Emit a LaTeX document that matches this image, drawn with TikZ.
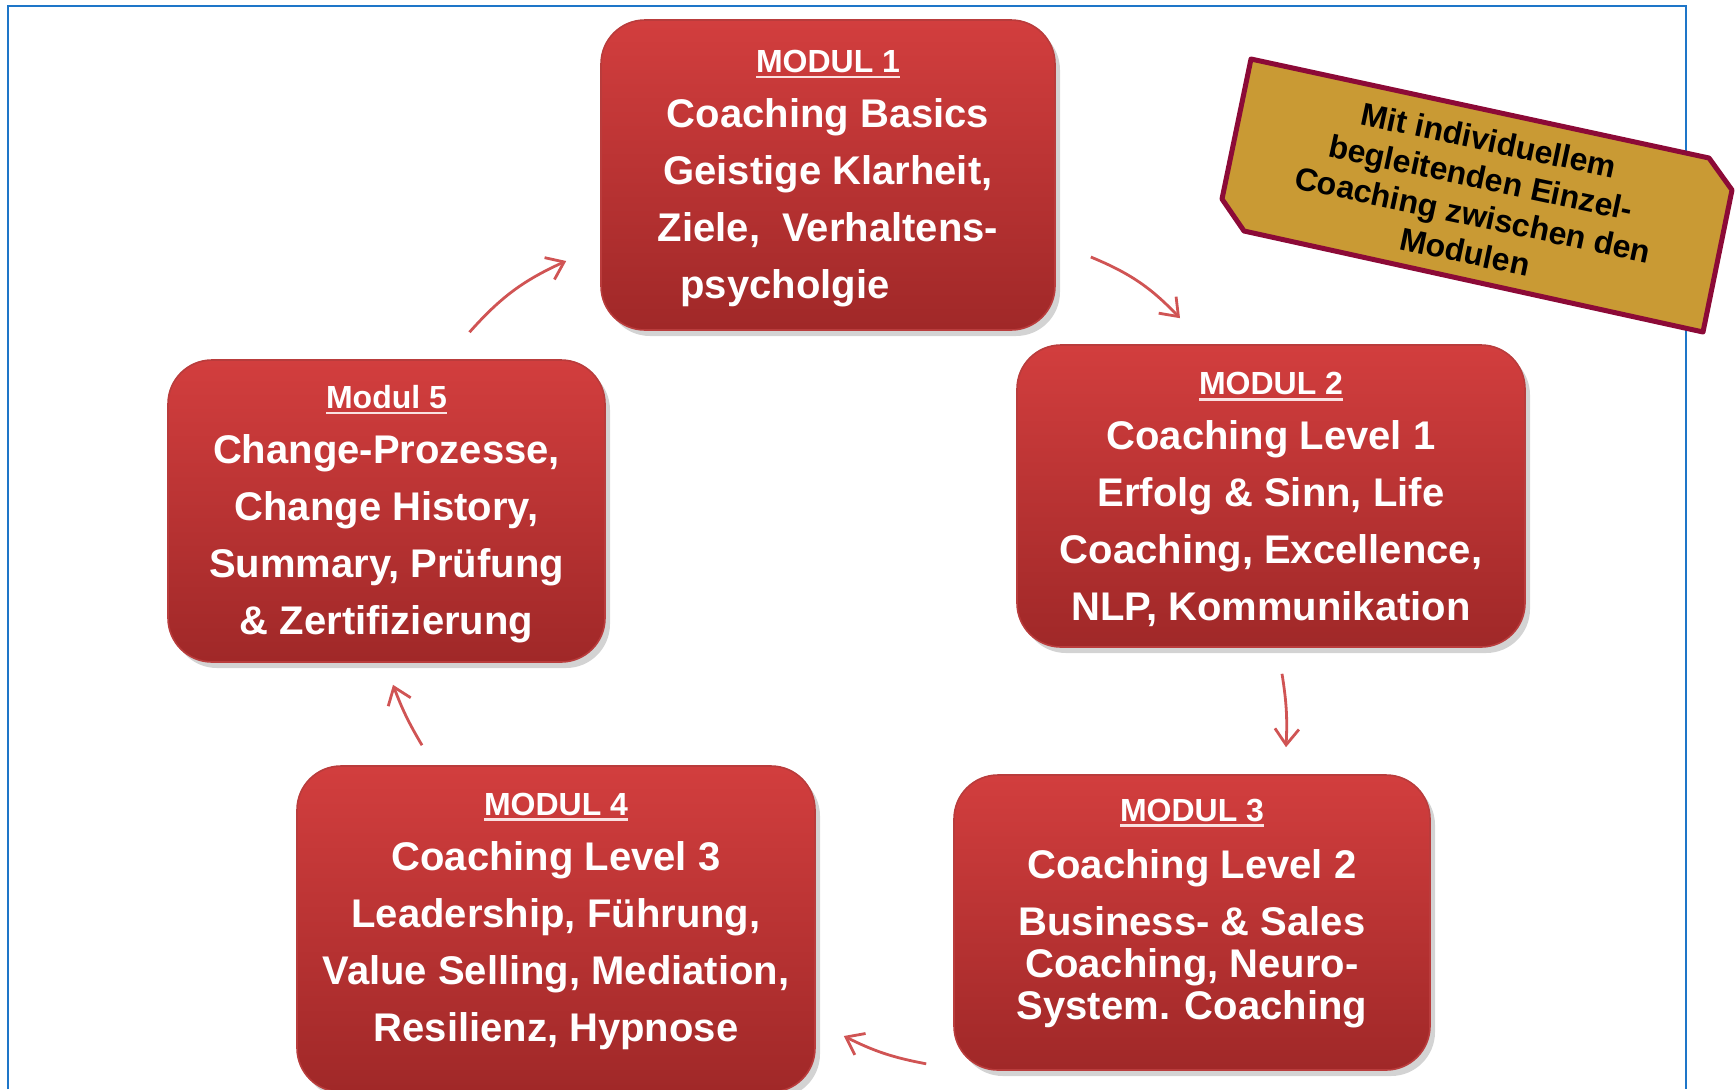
\documentclass[tikz,border=0pt]{standalone}
\usepackage{fontspec}
\setmainfont{Liberation Sans}
\usetikzlibrary{arrows.meta,shadows}
\definecolor{modtop}{RGB}{210,62,62}
\definecolor{modbottom}{RGB}{160,40,40}
\definecolor{modrim}{RGB}{185,60,60}
\definecolor{arrowred}{RGB}{208,84,84}
\definecolor{taggold}{RGB}{201,154,52}
\definecolor{tagborder}{RGB}{140,10,55}
\definecolor{frameblue}{RGB}{30,118,200}
\definecolor{lineroze}{RGB}{250,225,225}
\newcommand{\modtitle}[1]{{\fontsize{16pt}{28.5pt}\selectfont
  \setbox0=\hbox{#1}\rlap{\color{lineroze}\rule[-2.8pt]{\wd0}{1.4pt}}\box0}}

\begin{document}
\begin{tikzpicture}[x=0.5pt,y=-0.5pt,
    >={Straight Barb[length=8pt,width=12pt]},
    modbox/.style={rounded corners=22pt, top color=modtop, bottom color=modbottom,
      draw=modrim, line width=0.8pt,
      drop shadow={shadow xshift=2.5pt,shadow yshift=-3pt,opacity=0.35},
      text=white, align=center, inner sep=0pt,
      font=\fontsize{20pt}{28.5pt}\selectfont\bfseries},
    flow/.style={->, draw=arrowred, line width=1.4pt},
    tagtext/.style={align=center, inner sep=0pt,
      font=\fontsize{16pt}{19pt}\selectfont\bfseries}]
  \useasboundingbox (0,0) rectangle (1736,1089);

  % frame
  \draw[frameblue, line width=1pt] (8,1089) -- (8,6) -- (1686,6) -- (1686,1089);

  % modules
  \node[modbox, minimum width=227pt, minimum height=155pt] (m1) at (828,175)
    {\rule{0pt}{15pt}\modtitle{MODUL 1}\\[-1pt]Coaching Basics\\Geistige Klarheit,\\Ziele,\ \ Verhaltens-\\psycholgie\makebox[43pt]{}};
  \node[modbox, minimum width=254pt, minimum height=151pt] (m2) at (1271,496)
    {\rule{0pt}{15pt}\modtitle{MODUL 2}\\[-1pt]Coaching Level 1\\Erfolg \& Sinn, Life\\Coaching, Excellence,\\NLP, Kommunikation};
  \node[modbox, minimum width=238pt, minimum height=147.5pt] (m3) at (1192,922.5)
    {\modtitle{MODUL 3}\\Coaching Level 2\\Business- \& Sales\\[-7.5pt]Coaching, Neuro-\\[-7.5pt]System. Coaching\rule[-13pt]{0pt}{1pt}};
  \node[modbox, minimum width=259pt, minimum height=163pt] (m4) at (556,929)
    {\modtitle{MODUL 4}\\[-1pt]Coaching Level 3\\Leadership, Führung,\\Value Selling, Mediation,\\Resilienz, Hypnose\rule[-12pt]{0pt}{1pt}};
  \node[modbox, minimum width=218.5pt, minimum height=151pt] (m5) at (386.5,511)
    {\rule{0pt}{15pt}\modtitle{Modul 5}\\[-1pt]Change-Prozesse,\\Change History,\\Summary, Prüfung\\\& Zertifizierung};

  % cycle
  \draw[flow] ([shift={(83,-27)}]m5.north) to[bend left=12] ([shift={(-34,86)}]m1.west);
  \draw[flow] ([shift={(35,82)}]m1.east) to[bend left=12] ([shift={(-91,-26)}]m2.north);
  \draw[flow] ([shift={(11,26)}]m2.south) to[bend left=6] ([shift={(94,-27)}]m3.north);
  \draw[flow] ([shift={(-27,-7)}]m3.south west) to[bend left=8] ([shift={(28,107)}]m4.east);
  \draw[flow] ([shift={(-134,-20)}]m4.north) to[bend left=5] ([shift={(6.5,22)}]m5.south);

  % coaching tag
  \draw[draw=tagborder, fill=taggold, line width=2.5pt, line join=round]
    (1251,59) -- (1709,158) -- (1732,190) -- (1703,332) -- (1244,231) -- (1222,199) -- cycle;
  \node[tagtext, rotate=-12] (note) at (1477,196)
    {Mit individuellem\\begleitenden Einzel-\\Coaching zwischen den\\Modulen};
\end{tikzpicture}
\end{document}
